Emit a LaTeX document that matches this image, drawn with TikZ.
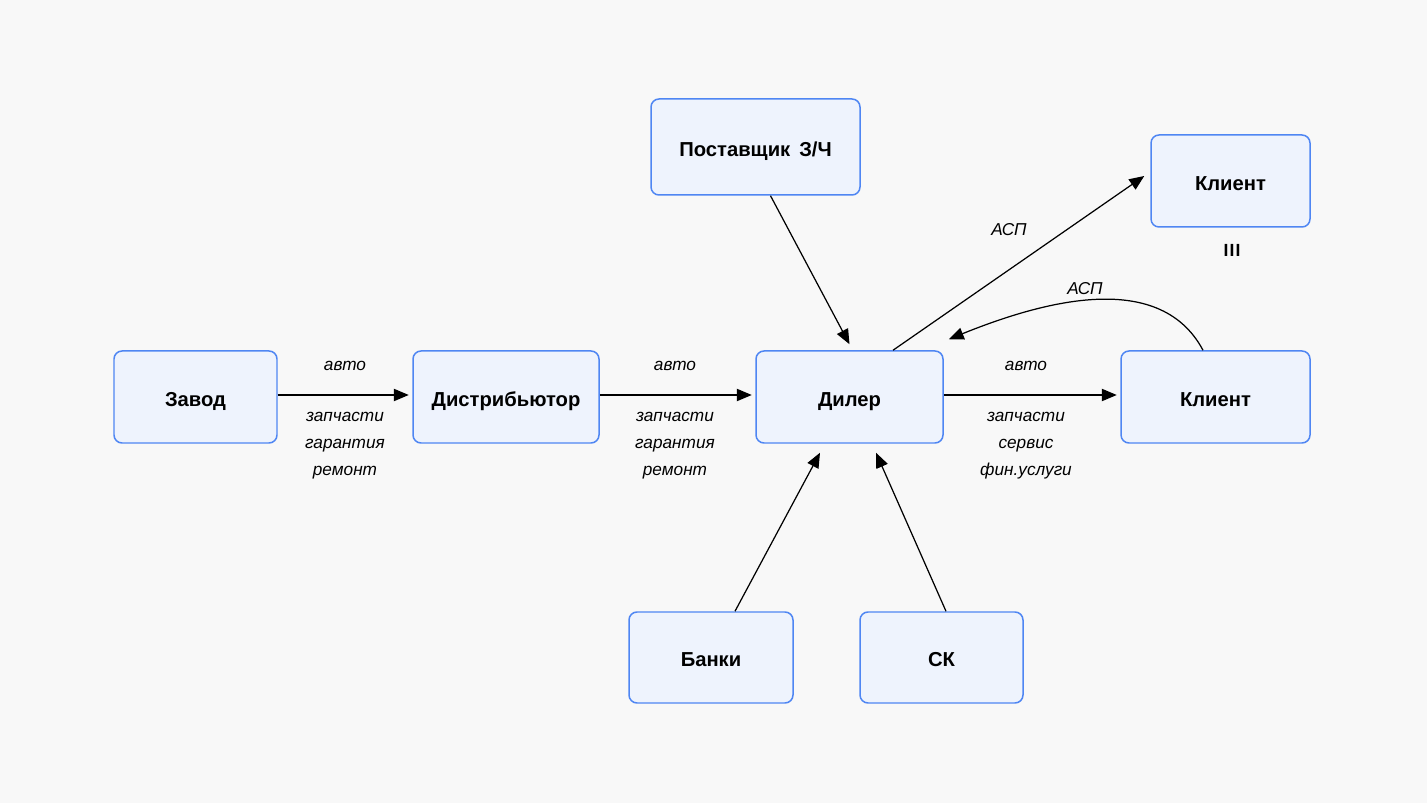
\documentclass[tikz,border=0pt]{standalone}
\usepackage{fontspec}
\setmainfont{Liberation Sans}
\usetikzlibrary{arrows.meta}
\definecolor{bgcolor}{HTML}{F8F8F8}
\definecolor{boxfill}{HTML}{EEF3FD}
\definecolor{boxline}{HTML}{4F86F3}

\tikzset{
  box/.style={draw=boxline, fill=boxfill, line width=0.85pt, rounded corners=0.16cm,
    minimum height=1.84cm, font=\fontsize{11.5}{13}\selectfont\bfseries, inner sep=0pt,
    text height=1.05em, text depth=0pt},
  arr/.style={-{Triangle[length=8.5pt,width=7pt]}, line width=0.7pt, black},
  lbl/.style={font=\fontsize{9.8}{11}\selectfont\itshape, inner sep=0pt,
    text height=0.52em, text depth=0pt}
}

\begin{document}
\begin{tikzpicture}
  % background
  \fill[bgcolor] (0,0) rectangle (28.54,-16.06);
  \useasboundingbox (0,0) rectangle (28.54,-16.06);
  % main chain
  \node[box, minimum width=3.26cm] (zavod) at (3.91,-7.94) {Завод};
  \node[box, minimum width=3.72cm] (distr) at (10.12,-7.94) {Дистрибьютор};
  \node[box, minimum width=3.74cm] (diler) at (16.99,-7.94) {Дилер};
  \node[box, minimum width=3.78cm] (klient) at (24.31,-7.94) {Клиент};
  % around the dealer
  \node[box, minimum width=4.18cm, minimum height=1.92cm] (post) at (15.11,-2.94) {Поставщик\, З/Ч};
  \node[box, minimum width=3.18cm] (klientasp) at (24.61,-3.62) {Клиент};
  \node[box, minimum width=3.28cm, minimum height=1.82cm] (banki) at (14.22,-13.15) {Банки};
  \node[box, minimum width=3.26cm, minimum height=1.82cm] (sk) at (18.83,-13.15) {СК};
  \node[font=\fontsize{10}{11}\selectfont\bfseries] (iii) at (24.64,-5.0) {I\kern0.6pt I\kern0.6pt I};
  % flows along the chain
  \draw[arr, shorten >=2pt] ([yshift=0.04cm]zavod.east) -- ([yshift=0.04cm]distr.west);
  \draw[arr, shorten >=2pt] ([yshift=0.04cm]distr.east) -- ([yshift=0.04cm]diler.west);
  \draw[arr, shorten >=2pt] ([yshift=0.04cm]diler.east) -- ([yshift=0.04cm]klient.west);
  \foreach \x/\n in {6.9/1, 13.5/2, 20.52/3} {
    \node[lbl] (avto\n) at (\x,-7.32) {авто};
    \node[lbl] (zap\n) at (\x,-8.34) {запчасти};
  }
  \node[lbl] (gar1) at (6.9,-8.88) {гарантия};
  \node[lbl] (rem1) at (6.9,-9.42) {ремонт};
  \node[lbl] (gar2) at (13.5,-8.88) {гарантия};
  \node[lbl] (rem2) at (13.5,-9.42) {ремонт};
  \node[lbl] (serv) at (20.52,-8.88) {сервис};
  \node[lbl] (fin) at (20.52,-9.42) {фин.услуги};
  % into and out of the dealer
  \draw[arr] ([xshift=0.3cm]post.south) -- ([yshift=0.12cm]diler.north);
  \draw[arr] ([xshift=0.87cm]diler.north) -- ([xshift=-0.12cm,yshift=0.1cm]klientasp.west);
  \node[lbl] (asp1) at (20.18,-4.62) {АСП};
  \draw[arr] ([xshift=-0.25cm]klient.north) to[out=118,in=22,looseness=0.95] ([xshift=0.1cm,yshift=0.22cm]diler.north east);
  \node[lbl] (asp2) at (21.7,-5.8) {АСП};
  \draw[arr] ([xshift=0.48cm]banki.north) -- ([xshift=-0.59cm,yshift=-0.18cm]diler.south);
  \draw[arr] ([xshift=0.09cm]sk.north) -- ([xshift=0.53cm,yshift=-0.18cm]diler.south);
\end{tikzpicture}
\end{document}
